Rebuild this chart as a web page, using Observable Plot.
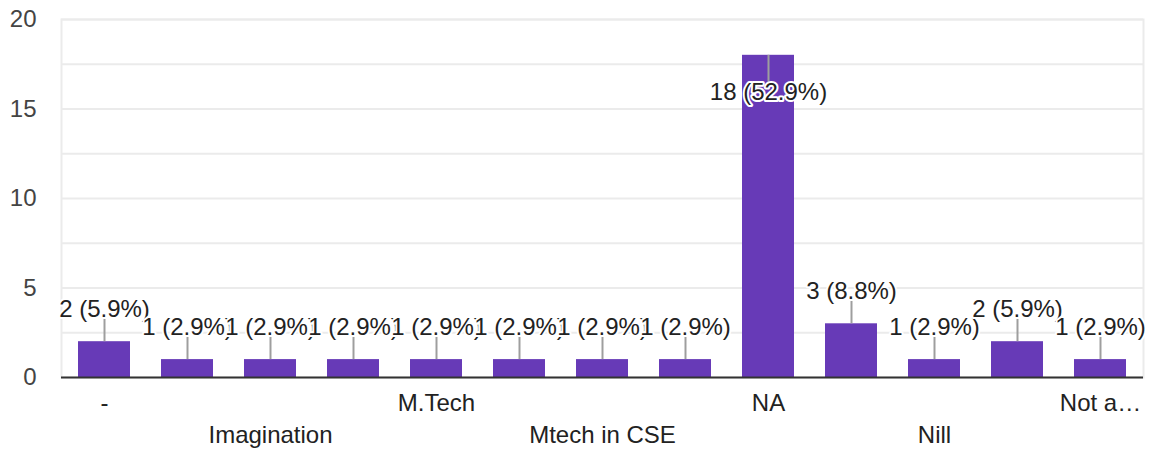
<!DOCTYPE html>
<html>
<head>
<meta charset="utf-8">
<script src="https://cdn.jsdelivr.net/npm/d3@7"></script>
<script src="https://cdn.jsdelivr.net/npm/@observablehq/plot@0.6"></script>
<style>
  html, body { margin: 0; padding: 0; background: #fff; }
  svg { display: block; }
</style>
</head>
<body>
<div id="chart"></div>
<script>
const categories = ["-", "GATE", "Imagination", "M.E", "M.Tech", "MBA", "Mtech in CSE", "MS", "NA", "Nil", "Nill", "No", "Not applicable"];
const counts = [2, 1, 1, 1, 1, 1, 1, 1, 18, 3, 1, 2, 1];
const axisLabels = ["-", "", "Imagination", "", "M.Tech", "", "Mtech in CSE", "", "NA", "", "Nill", "", "Not a…"];
const yTicks = [0, 5, 10, 15, 20];
const gridTicks = [2.5, 5, 7.5, 10, 12.5, 15, 17.5, 20];

const W = 1155, H = 451, mTop = 19, mBottom = 74, mLeft = 61, mRight = 12;
const yMax = 20;
const unitsPerPx = yMax / (H - mTop - mBottom);

const total = d3.sum(counts);
const maxCount = d3.max(counts);
const data = categories.map((c, i) => ({
  cat: c,
  value: counts[i],
  label: `${counts[i]} (${d3.format(".1f")(counts[i] / total * 100)}%)`,
  inside: counts[i] === maxCount
}));
const outside = data.filter(d => !d.inside);
const inside = data.filter(d => d.inside);

const xLabels = axisLabels
  .map((l, i) => ({cat: categories[i], label: l, i}))
  .filter(d => d.label !== "")
  .map((d, k) => ({...d, row: k % 2}));

const font = "Liberation Sans, Arial, Helvetica, sans-serif";
const fs = 24;

const chart = Plot.plot({
  width: W,
  height: H,
  marginTop: mTop,
  marginBottom: mBottom,
  marginLeft: mLeft,
  marginRight: mRight,
  style: {fontFamily: font, fontSize: fs + "px", color: "#444", background: "#fff"},
  x: {domain: categories, paddingInner: 0.375, paddingOuter: 0.1875, axis: null},
  y: {domain: [0, yMax], ticks: yTicks, tickSize: 0, tickPadding: 25, label: null, tickFormat: d => d},
  marks: [
    Plot.ruleY(gridTicks, {stroke: "#ebebeb", strokeWidth: 2}),
    Plot.frame({stroke: "#ebebeb", strokeWidth: 2}),
    Plot.barY(data, {x: "cat", y: "value", fill: "#673ab7"}),
    Plot.ruleY([0], {stroke: "#333", strokeWidth: 2}),
    Plot.ruleX(outside, {x: "cat", y1: "value", y2: d => d.value + 24 * unitsPerPx, stroke: "#9e9e9e", strokeWidth: 2}),
    Plot.ruleX(inside, {x: "cat", y1: "value", y2: d => d.value - 27 * unitsPerPx, stroke: "#9e9e9e", strokeWidth: 2}),
    Plot.text(outside, {x: "cat", y: "value", text: "label", lineAnchor: "bottom", dy: -25, fill: "#222", stroke: "white", strokeWidth: 4, fontSize: fs}),
    Plot.text(inside, {x: "cat", y: "value", text: "label", lineAnchor: "top", dy: 28, fill: "#222", stroke: "white", strokeWidth: 4, fontSize: fs}),
    Plot.text(xLabels.filter(d => d.row === 0), {x: "cat", text: "label", frameAnchor: "bottom", dy: 33, fill: "#222", fontSize: fs}),
    Plot.text(xLabels.filter(d => d.row === 1), {x: "cat", text: "label", frameAnchor: "bottom", dy: 65, fill: "#222", fontSize: fs})
  ]
});
document.getElementById("chart").appendChild(chart);
</script>
</body>
</html>
